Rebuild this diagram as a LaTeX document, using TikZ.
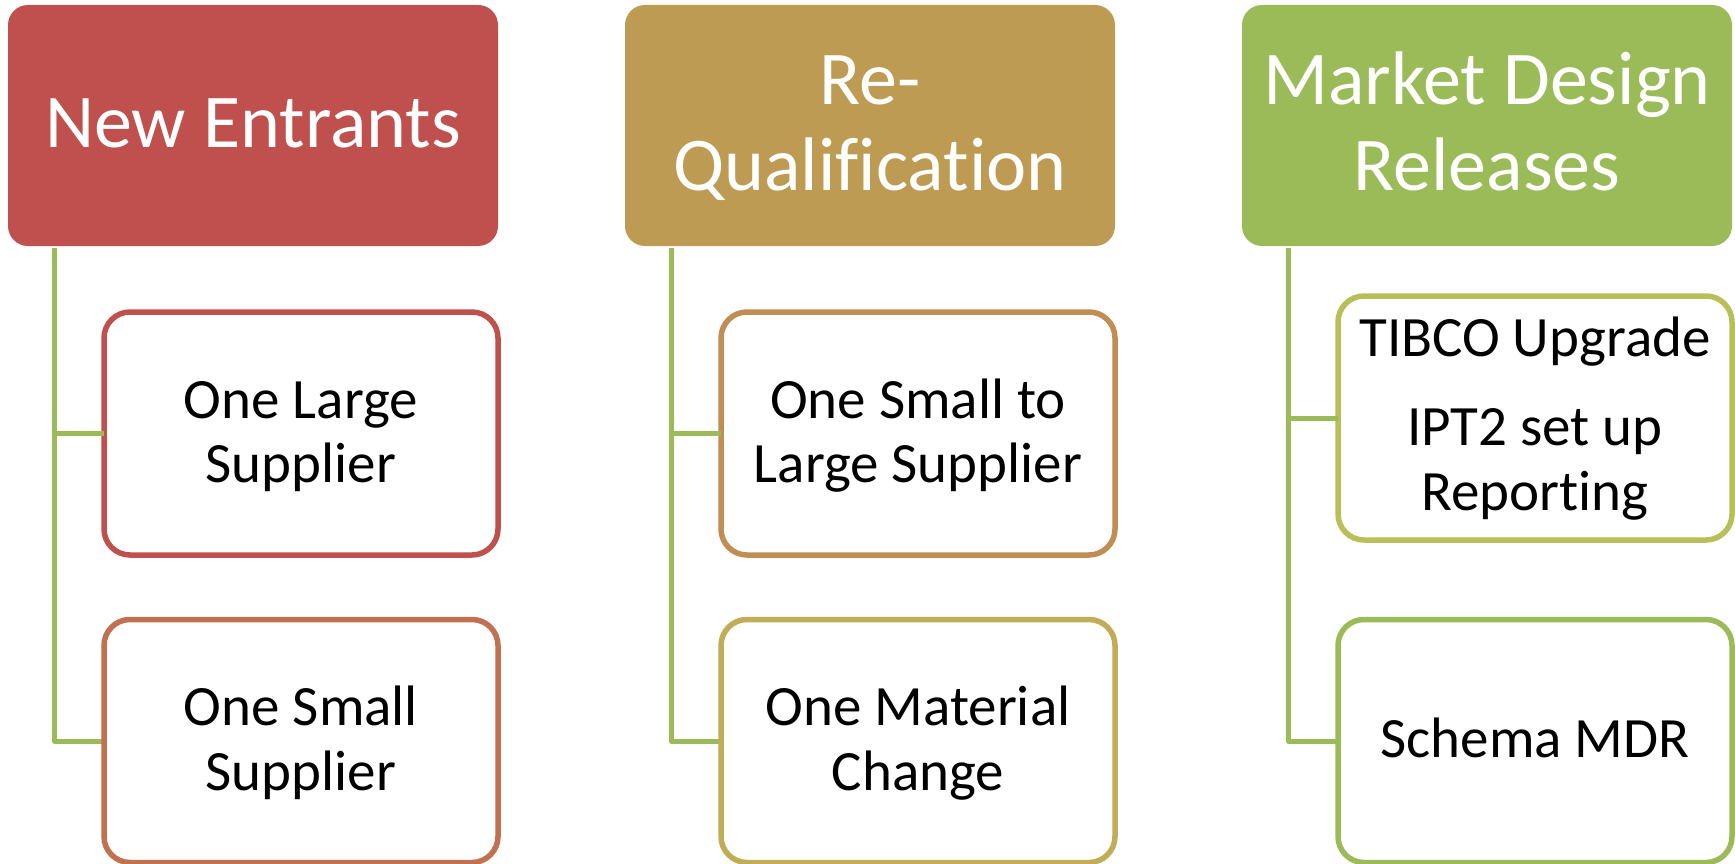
\documentclass[tikz,border=0pt]{standalone}
\usepackage{fontspec}
\setmainfont{Carlito}[Ligatures={NoCommon}]
\definecolor{pred}{RGB}{192,80,77}
\definecolor{pgold}{RGB}{190,155,83}
\definecolor{pgreen}{RGB}{155,187,89}
\definecolor{cA}{RGB}{192,80,77}
\definecolor{cB}{RGB}{193,112,80}
\definecolor{cC}{RGB}{192,141,82}
\definecolor{cD}{RGB}{193,172,88}
\definecolor{cE}{RGB}{184,191,88}
\definecolor{cF}{RGB}{155,187,89}
\begin{document}
\begin{tikzpicture}[x=1pt,y=-1pt,
  parentbox/.style={rounded corners=20pt, minimum width=490pt, minimum height=241pt, inner sep=0pt, outer sep=0pt},
  childbox/.style={draw, line width=5.5pt, fill=white, rounded corners=26pt, minimum width=394pt, minimum height=243pt, inner sep=0pt, outer sep=0pt},
  ptext/.style={anchor=base, text=white, inner sep=0pt, font=\fontsize{76}{85}\selectfont},
  ctext/.style={anchor=base, text=black, inner sep=0pt, font=\fontsize{57}{64}\selectfont},
  conn/.style={draw=pgreen, line width=5pt, line join=round}]
\useasboundingbox (0,0) rectangle (1735,864);
% parents
\node[parentbox, fill=pred] (p1) at (253,125.5) {};
\node[parentbox, fill=pgold] (p2) at (870,125.5) {};
\node[parentbox, fill=pgreen] (p3) at (1487,125.5) {};
% connector tops
\coordinate (v1) at (54.5,248);
\coordinate (v2) at (671,248);
\coordinate (v3) at (1288,248);
% children positions
\coordinate (a1) at (301,433.5);
\coordinate (b1) at (301,741);
\coordinate (a2) at (918,433.5);
\coordinate (b2) at (918,741);
\coordinate (a3) at (1535,418);
\coordinate (b3) at (1535,741);
% connectors
\draw[conn] (v1) |- ([xshift=-1pt]b1 -| 104,0);
\draw[conn] (v2) |- ([xshift=-1pt]b2 -| 721,0);
\draw[conn] (v3) |- ([xshift=-1pt]b3 -| 1338,0);
% children
\node[childbox, draw=cA] (c1a) at (a1) {};
\node[childbox, draw=cB] (c1b) at (b1) {};
\node[childbox, draw=cC] (c2a) at (a2) {};
\node[childbox, draw=cD] (c2b) at (b2) {};
\node[childbox, draw=cE, minimum height=244pt] (c3a) at (a3) {};
\node[childbox, draw=cF] (c3b) at (b3) {};
\draw[conn] (v1 |- c1a.west) -- (c1a.west);
\draw[conn] (v2 |- c2a.west) -- (c2a.west);
\draw[conn] (v3 |- c3a.west) -- (c3a.west);
% parent texts
\node[ptext] (t1) at (253,147) {New Entrants};
\node[ptext] (t2a) at (870,105) {Re-};
\node[ptext] (t2b) at (870,190) {Qualification};
\node[ptext] (t3a) at (1487,105) {Market Design};
\node[ptext] (t3b) at (1487,190) {Releases};
% child texts
\node[ctext] (s1a) at (301,418) {One Large};
\node[ctext] (s1b) at (301,482) {Supplier};
\node[ctext] (s1c) at (301,725.5) {One Small};
\node[ctext] (s1d) at (301,790) {Supplier};
\node[ctext] (s2a) at (918,418) {One Small to};
\node[ctext] (s2b) at (918,482) {Large Supplier};
\node[ctext] (s2c) at (918,725.5) {One Material};
\node[ctext] (s2d) at (918,790) {Change};
\node[ctext] (s3a) at (1535,356.5) {TIBCO Upgrade};
\node[ctext] (s3b) at (1535,445.7) {IPT2 set up};
\node[ctext] (s3c) at (1535,510) {Reporting};
\node[ctext] (s3d) at (1535,757.6) {Schema MDR};
\end{tikzpicture}
\end{document}
